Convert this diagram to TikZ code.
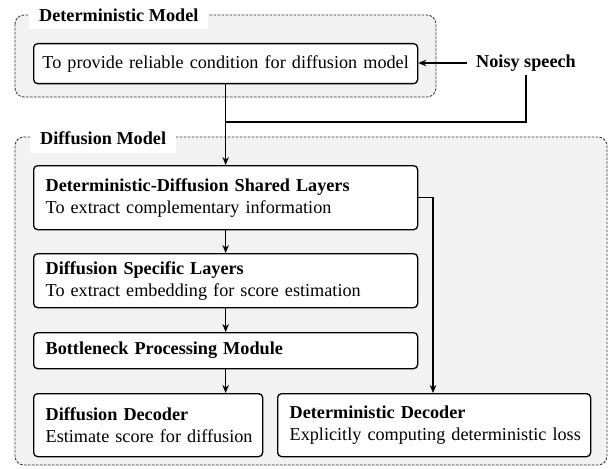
\documentclass[tikz,border=0pt]{standalone}
\usepackage{fontspec}
\setmainfont{Liberation Serif}
\usetikzlibrary{arrows.meta}
\definecolor{panel}{HTML}{F2F2F2}
\begin{document}
\begin{tikzpicture}[x=1pt,y=-1pt, font=\fontsize{18.2}{22}\selectfont,
 container/.style={draw=black!80, dash pattern=on 2.6pt off 1.4pt, line width=0.8pt, fill=panel, rounded corners=9pt},
 boxnode/.style={draw, line width=1.3pt, fill=white, rounded corners=4pt, anchor=north west, inner xsep=12pt, inner ysep=0pt, align=left},
 grouptitle/.style={fill=white, inner xsep=10pt, inner ysep=0pt, minimum height=29pt, font=\fontsize{18.2}{22}\selectfont\bfseries, anchor=west},
 conn/.style={line width=1.3pt},
 arr/.style={conn, -{Stealth[length=8pt,width=6.5pt]}}]
\useasboundingbox (0,0) rectangle (615,468);
% Deterministic model group
\draw[container] (15,15) rectangle (436,97);
\node[grouptitle] (detlabel) at (29,15) {Deterministic Model};
\node[boxnode, text width=380pt, inner xsep=2pt, minimum height=40pt, align=center] (cond) at (33,43) {\mbox{To provide reliable condition for diffusion model}};
\node[font=\fontsize{18.2}{22}\selectfont\bfseries, inner xsep=9pt] (noisy) at (526,63) {Noisy speech};
\draw[arr] (noisy.west) -- (noisy.west -| cond.east);
% Diffusion model group
\draw[container] (15,137) rectangle (607,465);
\node[grouptitle] (difflabel) at (30,138) {Diffusion Model};
\node[boxnode, text width=360pt, minimum height=64pt] (shared) at (33,165) {\mbox{\textbf{Deterministic-Diffusion Shared Layers}}\\\mbox{To extract complementary information}};
\node[boxnode, text width=360pt, minimum height=54pt] (specific) at (33,253) {\mbox{\textbf{Diffusion Specific Layers}}\\\mbox{To extract embedding for score estimation}};
\node[boxnode, text width=360pt, minimum height=36pt] (bneck) at (33,332) {\mbox{\textbf{Bottleneck Processing Module}}};
\node[boxnode, text width=205pt, minimum height=63pt] (diffdec) at (33,393) {\mbox{\textbf{Diffusion Decoder}}\\\mbox{Estimate score for diffusion}};
\node[boxnode, text width=289pt, minimum height=63pt] (detdec) at (277,393) {\mbox{\textbf{Deterministic Decoder}}\\\mbox{Explicitly computing deterministic loss}};
% connectors
\coordinate (join) at (225,122);
\coordinate (sidex) at (433,0);
\draw[conn] (noisy.south) |- (join);
\draw[arr] (cond.south) -- (shared.north);
\draw[arr] (shared.south) -- (specific.north);
\draw[arr] (specific.south) -- (bneck.north);
\draw[arr] (bneck.south) -- (bneck.south |- diffdec.north);
\draw[arr] (shared.east) -- (shared.east -| sidex) -- (sidex |- detdec.north);
\end{tikzpicture}
\end{document}
